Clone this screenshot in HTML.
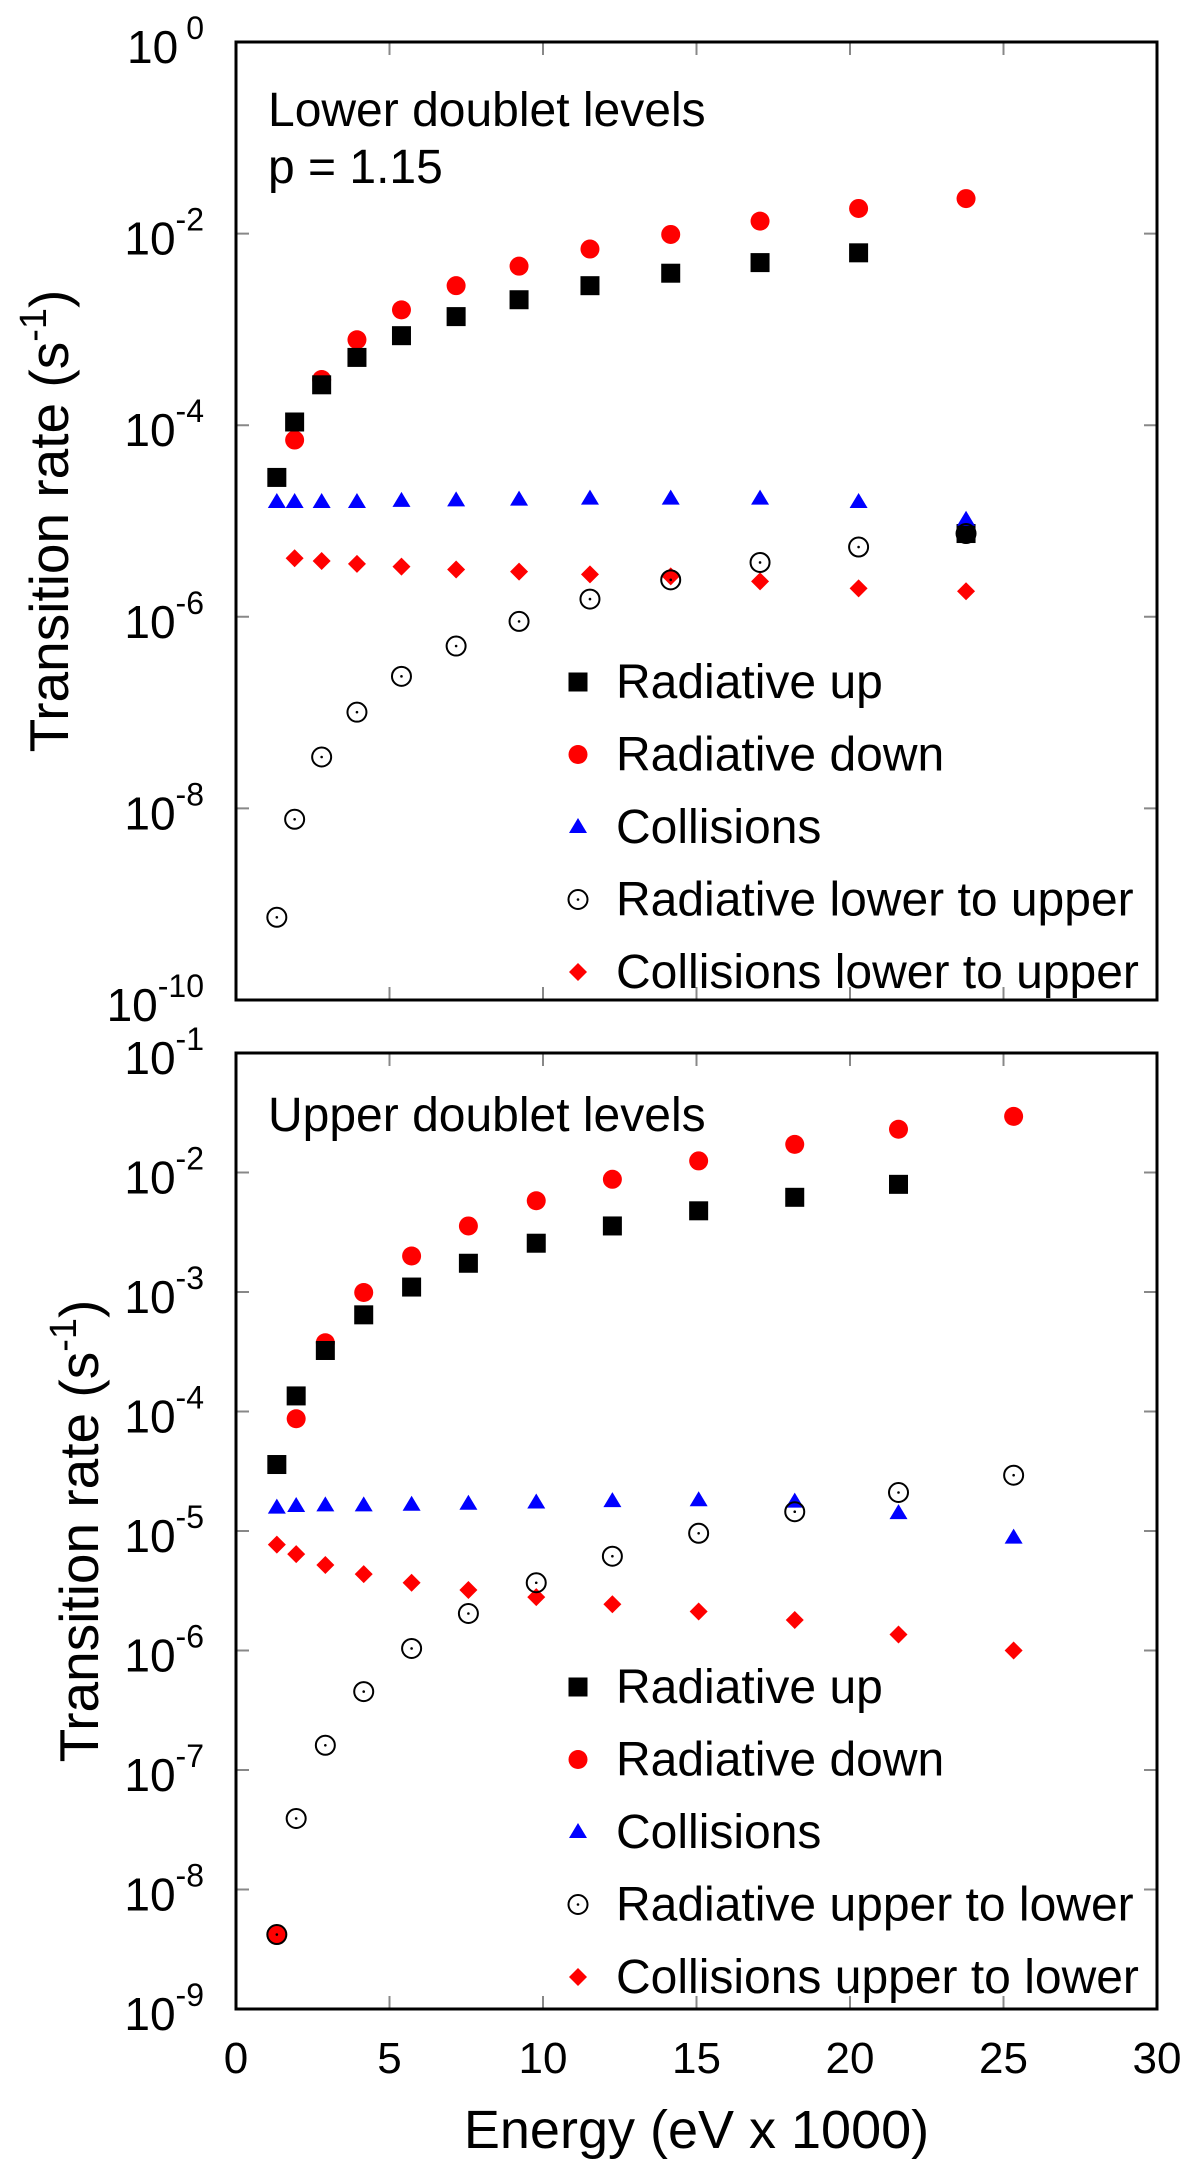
<!DOCTYPE html>
<html><head><meta charset="utf-8"><style>
html,body{margin:0;padding:0;background:#fff;}
svg{display:block;font-family:"Liberation Sans",Arial,sans-serif;}
</style></head><body>
<svg id="chart" xmlns="http://www.w3.org/2000/svg" width="1200" height="2171" viewBox="0 0 1200 2171">
</svg>
<script>
// ---- data (top panel: lower doublet levels) ----
const topX = [1.33, 1.91, 2.79, 3.94, 5.39, 7.17, 9.22, 11.53, 14.16, 17.07, 20.28, 23.78];
const topRadUp = [2.85e-5, 1.08e-4, 2.64e-4, 5.1e-4, 8.6e-4, 1.36e-3, 2.04e-3, 2.86e-3, 3.86e-3, 4.98e-3, 6.3e-3, 7.4e-6];
const topRadDown = [null, 7.0e-5, 3.0e-4, 7.8e-4, 1.6e-3, 2.86e-3, 4.57e-3, 6.9e-3, 9.8e-3, 1.35e-2, 1.83e-2, 2.32e-2];
const topColl = [1.58e-5, 1.58e-5, 1.58e-5, 1.58e-5, 1.62e-5, 1.64e-5, 1.67e-5, 1.71e-5, 1.71e-5, 1.71e-5, 1.58e-5, 1.03e-5];
const topRadCross = [7.3e-10, 7.7e-9, 3.44e-8, 1.01e-7, 2.39e-7, 4.95e-7, 8.95e-7, 1.53e-6, 2.43e-6, 3.69e-6, 5.35e-6, 7.4e-6];
const topCollCross = [null, 4.08e-6, 3.82e-6, 3.57e-6, 3.34e-6, 3.12e-6, 2.96e-6, 2.77e-6, 2.64e-6, 2.34e-6, 1.98e-6, 1.85e-6];
// ---- data (bottom panel: upper doublet levels) ----
const botX = [1.33, 1.96, 2.91, 4.16, 5.72, 7.57, 9.78, 12.26, 15.07, 18.2, 21.58, 25.33];
const botRadUp = [3.6e-5, 1.35e-4, 3.24e-4, 6.44e-4, 1.1e-3, 1.74e-3, 2.56e-3, 3.57e-3, 4.78e-3, 6.2e-3, 7.96e-3, null];
const botRadDown = [4.2e-9, 8.7e-5, 3.76e-4, 9.9e-4, 2.0e-3, 3.57e-3, 5.8e-3, 8.77e-3, 1.25e-2, 1.72e-2, 2.3e-2, 2.95e-2];
const botColl = [1.57e-5, 1.62e-5, 1.64e-5, 1.64e-5, 1.66e-5, 1.69e-5, 1.73e-5, 1.78e-5, 1.81e-5, 1.76e-5, 1.41e-5, 8.8e-6];
const botRadCross = [4.2e-9, 3.93e-8, 1.61e-7, 4.53e-7, 1.04e-6, 2.04e-6, 3.69e-6, 6.15e-6, 9.57e-6, 1.45e-5, 2.1e-5, 2.93e-5];
const botCollCross = [7.7e-6, 6.4e-6, 5.2e-6, 4.36e-6, 3.69e-6, 3.21e-6, 2.8e-6, 2.44e-6, 2.12e-6, 1.8e-6, 1.36e-6, 1.0e-6];
// ---- ticks ----
const xTicks = [0, 5, 10, 15, 20, 25, 30];
const topExps = [0, -2, -4, -6, -8, -10];
const botExps = [-1, -2, -3, -4, -5, -6, -7, -8, -9];
const topLegend = ["Radiative up", "Radiative down", "Collisions", "Radiative lower to upper", "Collisions lower to upper"];
const botLegend = ["Radiative up", "Radiative down", "Collisions", "Radiative upper to lower", "Collisions upper to lower"];

const NS = "http://www.w3.org/2000/svg";
const svg = document.getElementById('chart');
function mk(tag, attrs, parent) {
  const e = document.createElementNS(NS, tag);
  for (const k in attrs) e.setAttribute(k, attrs[k]);
  (parent || svg).appendChild(e);
  return e;
}
const X0 = 236, X1 = 1157;
function xs(v) { return X0 + (v - 0) / 30 * (X1 - X0); }

function marker(g, type, cx, cy) {
  let e;
  if (type === 'sq') {
    e = mk('rect', {x: cx - 9.5, y: cy - 9.5, width: 19, height: 19, fill: '#000'}, g);
  } else if (type === 'ci') {
    e = mk('circle', {cx: cx, cy: cy, r: 9.5, fill: '#f00'}, g);
  } else if (type === 'tr') {
    e = mk('polygon', {points: `${cx},${cy - 9} ${cx + 9},${cy + 6} ${cx - 9},${cy + 6}`, fill: '#00f'}, g);
  } else if (type === 'oc') {
    e = mk('g', {}, g);
    mk('circle', {cx: cx, cy: cy, r: 9.5, fill: 'none', stroke: '#000', 'stroke-width': 2}, e);
    mk('circle', {cx: cx, cy: cy, r: 1.3, fill: '#000'}, e);
  } else {
    e = mk('polygon', {points: `${cx},${cy - 9} ${cx + 9},${cy} ${cx},${cy + 9} ${cx - 9},${cy}`, fill: '#f00'}, g);
  }
  return e;
}

function panel(opt) {
  const g = mk('g', {});
  
  
  const top = opt.top, bot = opt.bot;
  const lmax = opt.lmax, lmin = opt.lmin;
  const ys = v => top + (lmax - Math.log10(v)) / (lmax - lmin) * (bot - top);
  xTicks.forEach(t => {
    if (t === 0 || t === 30) return;
    const tk = mk('path', {d: `M${xs(t)},${bot}v-13M${xs(t)},${top}v13`, stroke: '#888', 'stroke-width': 2}, g);
    
    
  });
  opt.exps.forEach(ex => {
    const y = top + (lmax - ex) / (lmax - lmin) * (bot - top);
    if (ex !== lmax && ex !== lmin) {
      const tk = mk('path', {d: `M${X0},${y}h13M${X1},${y}h-13`, stroke: '#888', 'stroke-width': 2}, g);
      
      
    }
    const t = mk('text', {x: 204, y: y + 21, 'text-anchor': 'end', 'font-size': 46}, g);
    
    
    const a = mk('tspan', {}, t); a.textContent = '10';
    const b = mk('tspan', {dy: -24, 'font-size': 32, dx: ex === 0 ? 8 : 0}, t); b.textContent = String(ex);
  });
  const frame = mk('rect', {x: X0, y: top, width: X1 - X0, height: bot - top, fill: 'none', stroke: '#000', 'stroke-width': 3}, g);
  
  
  const series = [['ci', opt.down, 'radiative-down'], ['sq', opt.up, 'radiative-up'], ['tr', opt.coll, 'collisions'], ['di', opt.ccross, 'collisions-cross'], ['oc', opt.rcross, 'radiative-cross']];
  series.forEach(s => {
    const sg = mk('g', {}, g);
    
    
    s[1].forEach((v, i) => {
      if (v == null) return;
      const m = marker(sg, s[0], xs(opt.x[i]), ys(v));
      
      
    });
  });
  opt.notes.forEach((n, i) => {
    const t = mk('text', {x: 268, y: opt.noteY + i * 57, 'font-size': 48}, g);
    
    
    t.textContent = n;
  });
  const types = ['sq', 'ci', 'tr', 'oc', 'di'];
  opt.legend.forEach((lab, i) => {
    const cy = opt.legY + i * 72.5;
    const lg = mk('g', {}, g);
    
    
    marker(lg, types[i], 578, cy);
    const t = mk('text', {x: 616, y: cy + 16, 'font-size': 48}, lg);
    t.textContent = lab;
  });
  const yt = mk('text', {transform: `translate(${opt.titleX},${(top + bot) / 2}) rotate(-90)`, 'text-anchor': 'middle', 'font-size': 55}, g);
  
  
  const p1 = mk('tspan', {}, yt); p1.textContent = 'Transition rate (s';
  const p2 = mk('tspan', {dy: -22, 'font-size': 38}, yt); p2.textContent = '-1';
  const p3 = mk('tspan', {dy: 22}, yt); p3.textContent = ')';
}

panel({name: 'lower-doublet-panel', top: 42, bot: 1000, lmax: 0, lmin: -10, exps: topExps,
  x: topX, up: topRadUp, down: topRadDown, coll: topColl, rcross: topRadCross, ccross: topCollCross,
  notes: ['Lower doublet levels', 'p = 1.15'], noteY: 126, legend: topLegend, legY: 682, titleX: 68});
panel({name: 'upper-doublet-panel', top: 1053, bot: 2009, lmax: -1, lmin: -9, exps: botExps,
  x: botX, up: botRadUp, down: botRadDown, coll: botColl, rcross: botRadCross, ccross: botCollCross,
  notes: ['Upper doublet levels'], noteY: 1131, legend: botLegend, legY: 1687, titleX: 98});

xTicks.forEach(t => {
  const e = mk('text', {x: xs(t), y: 2073, 'text-anchor': 'middle', 'font-size': 44});
  
  
  e.textContent = String(t);
});
const xt = mk('text', {x: (X0 + X1) / 2, y: 2148, 'text-anchor': 'middle', 'font-size': 54});


xt.textContent = 'Energy (eV x 1000)';
</script>
</body></html>
